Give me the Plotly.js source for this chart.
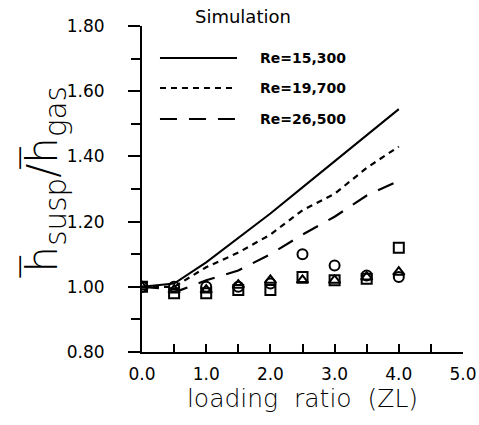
<!DOCTYPE html>
<html>
<head>
<meta charset="utf-8">
<script src="https://cdn.plot.ly/plotly-3.0.1.min.js"></script>
<style>html,body{margin:0;padding:0;background:#fff;}#chart{width:479px;height:425px;}</style>
</head>
<body>
<div id="chart"></div>
<script>
// Simulation curves
const simX = [0, 0.5, 1.0, 1.5, 2.0, 2.5, 3.0, 3.5, 4.0];
const simRe15300 = [1.0, 1.01, 1.075, 1.15, 1.225, 1.305, 1.385, 1.465, 1.545];
const simRe19700 = [1.0, 1.0, 1.06, 1.105, 1.16, 1.235, 1.285, 1.365, 1.43];
const simX26500 = [0, 0.6, 1.0, 1.5, 2.0, 2.5, 3.0, 3.5, 4.0];
const simRe26500 = [1.0, 0.99, 1.02, 1.05, 1.10, 1.16, 1.215, 1.28, 1.325];

// Measured points
const expX = [0, 0.5, 1.0, 1.5, 2.0, 2.5, 3.0, 3.5, 4.0];
const expCircle = [1.0, 1.0, 1.0, 1.0, 1.01, 1.10, 1.065, 1.035, 1.03];
const expSquare = [1.0, 0.98, 0.98, 0.99, 0.99, 1.03, 1.02, 1.025, 1.12];
const expTriangle = [1.0, 0.99, 0.99, 1.005, 1.02, 1.02, 1.02, 1.03, 1.045];

const legendTitle = 'Simulation';
const legendLabels = ['Re=15,300', 'Re=19,700', 'Re=26,500'];
const xTickVals = [0, 1, 2, 3, 4, 5];
const xTickText = ['0.0', '1.0', '2.0', '3.0', '4.0', '5.0'];
const yTickVals = [0.8, 1.0, 1.2, 1.4, 1.6, 1.8];
const yTickText = ['0.80', '1.00', '1.20', '1.40', '1.60', '1.80'];

const dashes = ['solid', '6px,5px', '17px,12px'];
const lineCommon = {mode: 'lines', hoverinfo: 'skip', showlegend: false};
const traces = [
  Object.assign({x: simX, y: simRe15300, line: {color: 'black', width: 2, dash: dashes[0]}, name: legendLabels[0]}, lineCommon),
  Object.assign({x: simX, y: simRe19700, line: {color: 'black', width: 2.2, dash: dashes[1]}, name: legendLabels[1]}, lineCommon),
  Object.assign({x: simX26500, y: simRe26500, line: {color: 'black', width: 2.2, dash: dashes[2]}, name: legendLabels[2]}, lineCommon)
];
const mk = (y, sym) => ({x: expX, y: y, mode: 'markers', showlegend: false,
  marker: {symbol: sym, size: 10, color: 'black', line: {color: 'black', width: 2}}});
traces.push(mk(expCircle, 'circle-open'));
traces.push(mk(expSquare, 'square-open'));
traces.push(mk(expTriangle, 'triangle-up-open'));

// legend drawn by hand (paper coords)
const legY = [0.902, 0.81, 0.715];
const shapes = legY.map((y, i) => ({type: 'line', xref: 'paper', yref: 'paper',
  x0: 0.056, x1: 0.296, y0: y, y1: y, line: {color: 'black', width: 2, dash: dashes[i]}}));
const annotations = legY.map((y, i) => ({xref: 'paper', yref: 'paper', x: 0.361, y: y,
  xanchor: 'left', yanchor: 'middle', showarrow: false, text: legendLabels[i],
  font: {family: 'DejaVu Sans', size: 14, color: 'black', weight: 'bold'}}));
annotations.push({xref: 'paper', yref: 'paper', x: 0.315, y: 1.03, xanchor: 'center', yanchor: 'middle',
  showarrow: false, text: legendTitle, font: {family: 'DejaVu Sans', size: 18, color: 'black'}});
annotations.push({xref: 'paper', yref: 'paper', x: -0.30, y: 0.52, xanchor: 'center', yanchor: 'middle',
  showarrow: false, textangle: -90,
  text: 'h\u0305<sub>susp</sub>/h\u0305<sub>gas</sub>',
  font: {family: 'DejaVu Sans', size: 42, color: 'black', weight: 200}});

const layout = {
  width: 479, height: 425,
  margin: {l: 142, r: 16, t: 26, b: 73},
  paper_bgcolor: 'white', plot_bgcolor: 'white',
  showlegend: false,
  xaxis: {
    range: [0, 5], tickvals: xTickVals, ticktext: xTickText,
    showgrid: false, zeroline: false, showline: true, linecolor: 'black', linewidth: 2,
    ticks: 'inside', ticklen: 8, tickwidth: 2, tickcolor: 'black',
    minor: {tickvals: [0.5, 1.5, 2.5, 3.5, 4.5], ticks: 'inside', ticklen: 8, tickwidth: 2, tickcolor: 'black'},
    tickfont: {family: 'DejaVu Sans', size: 17, color: 'black'},
    ticklabelstandoff: 6,
    title: {text: 'loading  ratio  (ZL)', standoff: 6,
      font: {family: 'DejaVu Sans', size: 25, color: 'black', weight: 200}}
  },
  yaxis: {
    range: [0.8, 1.8], tickvals: yTickVals, ticktext: yTickText,
    showgrid: false, zeroline: false, showline: true, linecolor: 'black', linewidth: 2,
    ticks: 'outside', ticklen: 12, tickwidth: 2, tickcolor: 'black',
    minor: {tickvals: [0.9, 1.1, 1.3, 1.5, 1.7], ticks: 'outside', ticklen: 9, tickwidth: 2, tickcolor: 'black'},
    tickfont: {family: 'DejaVu Sans', size: 17, color: 'black'},
    ticklabelstandoff: 20
  },
  shapes: shapes,
  annotations: annotations
};
Plotly.newPlot('chart', traces, layout, {displayModeBar: false, staticPlot: true});
</script>
</body>
</html>
